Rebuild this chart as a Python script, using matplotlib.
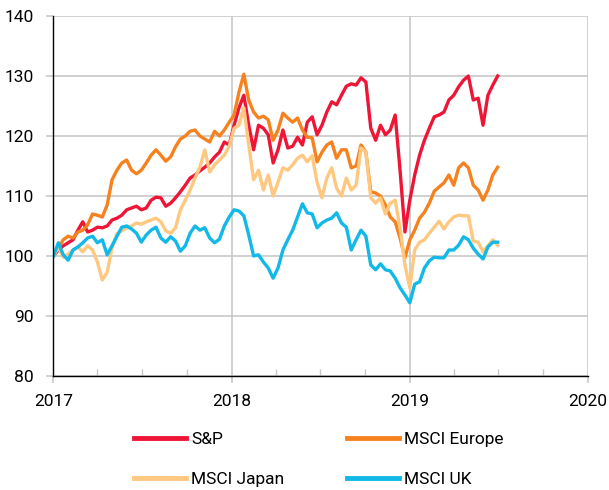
import matplotlib
matplotlib.use("Agg")
import matplotlib.pyplot as plt
import matplotlib.dates as mdates
import pandas as pd

plt.rcParams['font.family'] = ['Roboto', 'DejaVu Sans']

# index levels (start of 2017 = 100), one reading every 10 days
dates = pd.date_range("2017-01-01", periods=92, freq="10D")

sp = [100.0, 101.0, 101.7, 102.2, 102.7, 104.3, 105.7, 104.0, 104.3, 104.8,
      104.7, 105.0, 106.0, 106.3, 106.8, 107.7, 108.0, 108.3, 107.7, 108.0,
      109.3, 109.8, 109.7, 108.3, 108.8, 109.7, 110.7, 111.8, 113.0, 113.5,
      114.2, 114.8, 115.5, 116.5, 117.3, 119.0, 118.5, 121.8, 124.7, 126.8,
      121.8, 117.7, 121.8, 121.3, 120.2, 115.5, 117.7, 121.0, 118.0, 118.3,
      119.8, 118.5, 122.3, 123.2, 120.2, 121.8, 124.0, 125.7, 125.2, 126.8,
      128.3, 128.7, 128.5, 129.7, 129.0, 121.3, 119.3, 121.8, 120.2, 121.0,
      123.5, 114.3, 104.0, 109.3, 113.5, 116.8, 119.3, 121.3, 123.2, 123.5,
      124.0, 126.0, 126.8, 128.2, 129.3, 130.0, 126.0, 126.3, 121.8, 126.8,
      128.5, 130.0]

europe = [100.0, 101.3, 102.7, 103.3, 103.0, 104.0, 104.3, 105.2, 107.0, 106.8,
          106.5, 108.5, 112.7, 114.3, 115.5, 116.0, 114.3, 113.7, 114.3, 115.5,
          116.8, 117.7, 116.8, 115.8, 116.5, 118.2, 119.5, 120.0, 120.8, 121.0,
          120.0, 119.5, 119.0, 120.8, 120.0, 121.0, 122.3, 123.5, 127.3, 130.3,
          126.0, 124.0, 123.0, 123.3, 122.7, 119.3, 121.0, 123.8, 123.0, 122.3,
          123.0, 121.0, 119.8, 119.7, 115.7, 117.3, 118.5, 119.0, 116.3, 117.7,
          117.7, 114.7, 115.0, 118.5, 117.3, 110.7, 110.5, 110.0, 108.5, 106.5,
          105.7, 103.0, 99.7, 102.7, 104.3, 106.3, 107.3, 108.8, 110.8, 111.5,
          112.2, 113.5, 111.8, 114.7, 115.5, 114.7, 111.8, 111.0, 109.3, 111.0,
          113.5, 114.8]

japan = [100.0, 101.5, 99.8, 100.3, 101.0, 101.5, 100.7, 101.7, 101.0, 99.0,
         96.0, 97.3, 101.3, 103.7, 104.2, 104.7, 105.0, 105.5, 105.3, 105.7,
         106.0, 106.3, 105.7, 104.2, 103.8, 104.7, 107.7, 109.3, 111.0, 113.0,
         114.8, 117.7, 114.0, 115.2, 116.0, 116.8, 118.3, 121.3, 121.8, 124.7,
         118.5, 112.7, 114.3, 111.0, 113.5, 110.0, 112.3, 114.7, 114.3, 115.2,
         116.3, 116.8, 115.7, 116.7, 112.3, 109.7, 113.0, 114.7, 111.3, 110.0,
         113.0, 111.0, 111.8, 118.0, 117.3, 109.7, 108.8, 109.7, 107.0, 108.8,
         109.3, 104.7, 98.5, 94.7, 101.0, 102.3, 102.7, 103.8, 104.8, 105.8,
         104.5, 105.7, 106.5, 106.8, 106.7, 106.7, 102.5, 102.3, 100.7, 101.7,
         102.7, 101.8]

uk = [100.0, 102.2, 100.2, 99.3, 101.0, 101.5, 102.2, 103.0, 103.3, 102.2,
      102.7, 100.2, 101.7, 103.3, 104.8, 105.0, 104.5, 103.8, 102.3, 103.5,
      104.3, 104.8, 103.0, 102.3, 103.2, 102.5, 100.8, 101.7, 103.8, 105.0,
      104.3, 104.7, 103.0, 102.2, 102.8, 105.0, 106.5, 107.7, 107.5, 106.7,
      103.5, 100.0, 100.2, 99.0, 98.0, 96.3, 98.0, 101.0, 102.7, 104.3,
      106.5, 108.7, 107.2, 107.0, 104.7, 105.5, 106.0, 106.3, 107.2, 105.5,
      104.8, 101.0, 102.7, 104.3, 103.3, 98.5, 97.7, 98.7, 97.7, 97.5,
      96.3, 94.7, 93.5, 92.2, 95.3, 95.7, 98.0, 99.2, 99.8, 99.7,
      99.7, 101.0, 101.0, 101.8, 103.2, 102.7, 101.3, 100.3, 99.5, 101.5,
      102.3, 102.3]

labels = ["S&P", "MSCI Europe", "MSCI Japan", "MSCI UK"]
colors = ["#EE1537", "#F5821F", "#FFC880", "#12B8E8"]

fig = plt.figure(figsize=(6.09, 4.90), dpi=100)
ax = fig.add_axes([0.0878, 0.2327, 0.8777, 0.7346])

lines = []
for vals, lab, col in zip([sp, europe, japan, uk], labels, colors):
    ln, = ax.plot(dates, vals, color=col, lw=2.4, label=lab, solid_joinstyle="round")
    lines.append(ln)

ax.set_xlim(pd.Timestamp("2017-01-01"), pd.Timestamp("2020-01-01"))
ax.set_ylim(80, 140)
ax.set_yticks(range(80, 141, 10))
ax.xaxis.set_major_locator(mdates.YearLocator())
ax.xaxis.set_major_formatter(mdates.DateFormatter("%Y"))
ax.xaxis.set_minor_locator(mdates.MonthLocator(bymonth=(4, 7, 10)))

ax.grid(True, which="major", color="#C8C8C8", lw=1.2)
ax.set_axisbelow(True)
for s in ["top", "right"]:
    ax.spines[s].set_visible(False)
ax.spines["left"].set_color("black")
ax.spines["bottom"].set_color("black")
ax.spines["left"].set_linewidth(1.0)
ax.spines["bottom"].set_linewidth(1.0)

ax.tick_params(axis="y", which="major", length=5, color="#C8C8C8", width=1.2,
               labelsize=12.5, pad=9)
ax.tick_params(axis="x", which="major", length=5, color="#C8C8C8", width=1.2,
               labelsize=12.5, pad=8)
ax.tick_params(axis="x", which="minor", direction="in", length=5, color="#C8C8C8", width=1.0)

# legend below, two columns (S&P / Europe on first row)
order = [0, 2, 1, 3]
leg = fig.legend([lines[i] for i in order], [labels[i] for i in order],
                 ncol=2, loc="upper left", bbox_to_anchor=(0.208, 0.132),
                 frameon=False, fontsize=12.5, handlelength=3.0, handletextpad=0.3,
                 columnspacing=3.6, labelspacing=1.4, borderaxespad=0)
for h in leg.get_lines():
    h.set_linewidth(3.5)

fig.savefig("out.png", dpi=100)
